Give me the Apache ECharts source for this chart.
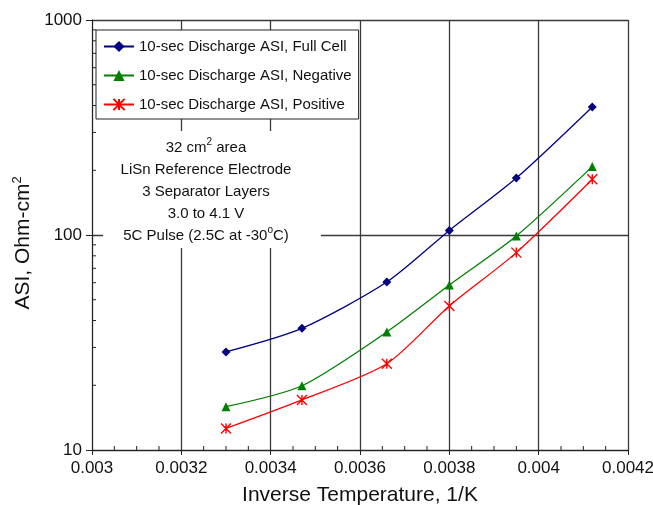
<!DOCTYPE html>
<html>
<head>
<meta charset="utf-8">
<script src="https://cdn.jsdelivr.net/npm/echarts@6/dist/echarts.min.js"></script>
<style>
html,body{margin:0;padding:0;background:#fff;}
#chart{width:653px;height:505px;}
</style>
</head>
<body>
<div id="chart"></div>
<script>
// ---- data ----
const invTemp = [0.0033, 0.00347, 0.00366, 0.0038, 0.00395, 0.00412];
const asiFullCell = [28.6, 36.8, 60.4, 105, 184, 394];
const asiNegative = [15.9, 19.9, 35.4, 58.5, 99, 208];
const asiPositive = [12.6, 17.1, 25.2, 46.8, 82.8, 181.6];
const seriesNames = ['10-sec Discharge ASI, Full Cell', '10-sec Discharge ASI, Negative', '10-sec Discharge ASI, Positive'];
const xMin = 0.003, xMax = 0.0042, xStep = 0.0002;
const yMin = 10, yMax = 1000;
const xMinorTicks = [0.00305, 0.0031, 0.00315, 0.00325, 0.0033, 0.00335, 0.00345, 0.0035, 0.00355,
  0.00365, 0.0037, 0.00375, 0.00385, 0.0039, 0.00395, 0.00405, 0.0041, 0.00415];
const yMinorTicks = [20, 30, 40, 50, 60, 70, 80, 90, 200, 300, 400, 500, 600, 700, 800, 900];
const noteLines = ['{t|32 cm}{s|2}{t| area}', '{t|LiSn Reference Electrode}', '{t|3 Separator Layers}',
  '{t|3.0 to 4.1 V}', '{t|5C Pulse (2.5C at -30}{s|o}{t|C)}'];

const FONT = 'Arial, "Liberation Sans", sans-serif';
const chart = echarts.init(document.getElementById('chart'), null, {renderer: 'canvas'});

function pairs(xs, ys) { return xs.map((x, i) => [x, ys[i]]); }

function tickRenderer(isY) {
  return function (params, api) {
    const v = api.value(isY ? 1 : 0);
    const p = isY ? api.coord([xMin, v]) : api.coord([v, yMin]);
    const len = 4;
    return {
      type: 'line',
      shape: isY ? {x1: p[0], y1: p[1], x2: p[0] + len, y2: p[1]} : {x1: p[0], y1: p[1], x2: p[0], y2: p[1] - len},
      style: {stroke: '#222', lineWidth: 1}
    };
  };
}

const option = {
  backgroundColor: '#fff',
  animation: false,
  textStyle: {fontFamily: FONT},
  grid: {left: 92, right: 25, top: 20, bottom: 55, containLabel: false, outerBoundsMode: 'none'},
  xAxis: {
    type: 'value', min: xMin, max: xMax, interval: xStep,
    name: 'Inverse Temperature, 1/K', nameLocation: 'middle', nameGap: 35,
    nameTextStyle: {fontSize: 21, color: '#111', fontFamily: FONT},
    axisLine: {show: true, lineStyle: {color: '#222', width: 1}},
    axisTick: {show: true, inside: false, length: 5, lineStyle: {color: '#222'}},
    axisLabel: {fontSize: 17, color: '#111', margin: 10, fontFamily: FONT,
      formatter: v => String(+v.toFixed(4))},
    splitLine: {show: true, lineStyle: {color: '#3a3a3a', width: 1.3}}
  },
  yAxis: {
    type: 'log', logBase: 10, min: yMin, max: yMax,
    name: '{a|ASI, Ohm-cm}{s|2}', nameLocation: 'middle', nameGap: 43, nameRotate: 90,
    nameTextStyle: {color: '#111', fontFamily: FONT, padding: [0, 16, 0, 0],
      rich: {a: {fontSize: 21, color: '#111', fontFamily: FONT, lineHeight: 24},
             s: {fontSize: 13, color: '#111', fontFamily: FONT, verticalAlign: 'top', lineHeight: 14}}},
    axisLine: {show: true, lineStyle: {color: '#222', width: 1}},
    axisTick: {show: true, inside: false, length: 6, lineStyle: {color: '#222'}},
    minorTick: {show: false},
    axisLabel: {fontSize: 17, color: '#111', margin: 10, fontFamily: FONT,
      formatter: v => String(Math.round(v))},
    splitLine: {show: true, lineStyle: {color: '#3a3a3a', width: 1.3}}
  },
  legend: {
    left: 96, top: 30, orient: 'vertical',
    width: 262,
    padding: [9, 7, 7, 7],
    itemGap: 14, itemWidth: 30, itemHeight: 14,
    backgroundColor: '#fff', borderColor: '#222', borderWidth: 1, borderRadius: 0,
    textStyle: {fontSize: 15, color: '#111', fontFamily: FONT},
    data: seriesNames,
    z: 10
  },
  graphic: [
    {type: 'rect', z: 100, shape: {x: 103, y: 131, width: 218, height: 117}, style: {fill: '#fff'}},
    {type: 'text', z: 101, x: 206, y: 137,
      style: {
        text: noteLines.join('\n'), align: 'center', verticalAlign: 'top',
        rich: {
          t: {fontSize: 15, fill: '#111', fontFamily: FONT, lineHeight: 22},
          s: {fontSize: 10, fill: '#111', fontFamily: FONT, lineHeight: 12, verticalAlign: 'top'}
        }
      }}
  ],
  series: [
    {
      name: seriesNames[0], type: 'line', data: pairs(invTemp, asiFullCell),
      smooth: 0.25, symbol: 'diamond', symbolSize: 9,
      lineStyle: {color: '#000080', width: 1.3}, itemStyle: {color: '#000080'}, z: 5
    },
    {
      name: seriesNames[1], type: 'line', data: pairs(invTemp, asiNegative),
      smooth: 0.25, symbol: 'triangle', symbolSize: 9,
      lineStyle: {color: '#008000', width: 1.3}, itemStyle: {color: '#008000'}, z: 5
    },
    {
      name: seriesNames[2], type: 'line', data: pairs(invTemp, asiPositive),
      smooth: 0.25, symbol: 'path://M0,0L10,10M10,0L0,10M5,0L5,10', symbolSize: 10,
      lineStyle: {color: '#ff0000', width: 1.3},
      itemStyle: {color: '#ff0000', borderColor: '#ff0000', borderWidth: 1.4}, z: 5
    },
    {
      type: 'custom', name: 'yminor', silent: true, data: yMinorTicks.map(v => [xMin, v]),
      renderItem: tickRenderer(true), z: 3, legendHoverLink: false, tooltip: {show: false}
    },
    {
      type: 'custom', name: 'xminor', silent: true, data: xMinorTicks.map(v => [v, yMin]),
      renderItem: tickRenderer(false), z: 3, legendHoverLink: false, tooltip: {show: false}
    }
  ]
};
chart.setOption(option);
</script>
</body>
</html>
